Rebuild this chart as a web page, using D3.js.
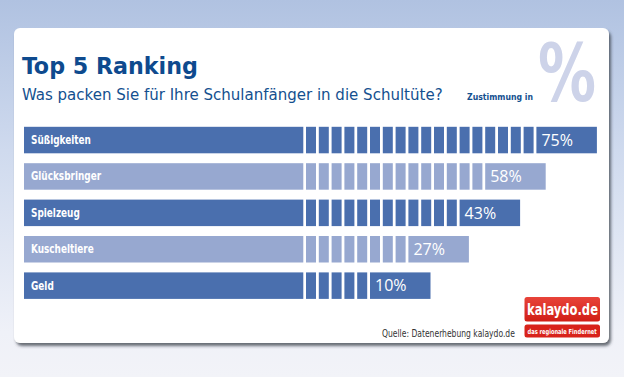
<!DOCTYPE html>
<html>
<head>
<meta charset="utf-8">
<script src="https://cdn.jsdelivr.net/npm/d3@7/dist/d3.min.js"></script>
<style>
html,body{margin:0;padding:0;background:#f2f3f8;}
svg{display:block;}
</style>
</head>
<body>
<svg id="chart" width="624" height="377"></svg>
<script>
// ---- data ----
const categories = ["Süßigkeiten", "Glücksbringer", "Spielzeug", "Kuscheltiere", "Geld"];
const values = [75, 58, 43, 27, 10];
const blocks = [18, 14, 12, 8, 5];   // number of small blocks drawn after the solid part
const title = "Top 5 Ranking";
const subtitle = "Was packen Sie für Ihre Schulanfänger in die Schultüte?";
const unitLabel = "Zustimmung in";
const source = "Quelle: Datenerhebung kalaydo.de";

const W = 624, H = 377;
const svg = d3.select("#chart");
const defs = svg.append("defs");

const bg = defs.append("linearGradient").attr("id","bg").attr("x1",0).attr("y1",0).attr("x2",0).attr("y2",1);
bg.append("stop").attr("offset","0").attr("stop-color","#b0c2e1");
bg.append("stop").attr("offset","0.4").attr("stop-color","#cfdaee");
bg.append("stop").attr("offset","0.88").attr("stop-color","#eff1f8");
bg.append("stop").attr("offset","1").attr("stop-color","#f2f3f8");

const f = defs.append("filter").attr("id","shadow").attr("x","-5%").attr("y","-5%").attr("width","115%").attr("height","120%");
f.append("feDropShadow").attr("dx",2).attr("dy",3).attr("stdDeviation",1.6).attr("flood-color","#3a3f4a").attr("flood-opacity",0.75);

const red = defs.append("linearGradient").attr("id","red").attr("x1",0).attr("y1",0).attr("x2",0).attr("y2",1);
red.append("stop").attr("offset","0").attr("stop-color","#e8443a");
red.append("stop").attr("offset","1").attr("stop-color","#d01e16");

svg.append("rect").attr("width",W).attr("height",H).attr("fill","url(#bg)");

// card
svg.append("rect").attr("x",14).attr("y",28).attr("width",595).attr("height",315)
  .attr("rx",6).attr("fill","#ffffff").attr("filter","url(#shadow)");

const narrow = "'Liberation Sans Narrow','DejaVu Sans Condensed','Arial Narrow',sans-serif";

// place a text at (x, y) squeezed horizontally to a target width via transform
function fitText(parent, str, x, y, width, attrs){
  const t = parent.append("text").attr("x",0).attr("y",0).text(str);
  Object.entries(attrs).forEach(([k,v])=>t.attr(k,v));
  const w = t.node().getComputedTextLength();
  const k = width / w;
  t.attr("transform", `translate(${x},${y}) scale(${k},1)`);
  return t;
}

// big percent sign
fitText(svg, "%", 538, 101, 58, {"font-family":"'DejaVu Sans',sans-serif","font-weight":"bold","font-size":80,"fill":"#cdd3e9"});

// titles
fitText(svg, title, 22, 74, 176, {"font-family":narrow,"font-weight":"bold","font-size":23.5,"fill":"#0e4a8e"});
fitText(svg, subtitle, 22, 99.5, 421, {"font-family":narrow,"font-size":16,"fill":"#14508f"});
fitText(svg, unitLabel, 467, 100, 66, {"font-family":narrow,"font-weight":"bold","font-size":9.5,"fill":"#14508f"});

// scales
const y = d3.scaleBand().domain(categories)
  .range([126.8, 126.8 + 5*36.4 - 9.9]).paddingInner(9.9/36.4).paddingOuter(0);
const maxBlocks = d3.max(blocks);
const x = d3.scaleLinear().domain([0, maxBlocks]).range([306, 306 + maxBlocks*12.8]);
const solidX0 = 24, solidX1 = 303.3, blockW = 10, boxW = 60.5;

const data = categories.map((c,i)=>({cat:c, value:values[i], n:blocks[i], i}));
const dark = "#4a6fae", light = "#97a8d0";
const col = d => d.i % 2 === 0 ? dark : light;

const rows = svg.append("g").selectAll("g").data(data).join("g")
  .attr("transform", d => `translate(0,${y(d.cat)})`);

rows.append("rect").attr("x",solidX0).attr("y",0).attr("width",solidX1-solidX0)
  .attr("height",y.bandwidth()).attr("fill",col);

rows.each(function(d){
  d3.select(this).selectAll("rect.blk").data(d3.range(d.n)).join("rect")
    .attr("class","blk").attr("x",k=>x(k)).attr("y",0).attr("width",blockW)
    .attr("height",y.bandwidth()).attr("fill",col(d));
});

rows.append("rect").attr("x",d=>x(d.n)).attr("y",0).attr("width",boxW)
  .attr("height",y.bandwidth()).attr("fill",col);

rows.each(function(d){
  const g = d3.select(this);
  const t = g.append("text").attr("x",0).attr("y",0).text(d.cat)
    .attr("font-family",narrow).attr("font-weight","bold").attr("font-size",11.5)
    .attr("fill","#ffffff");
  t.attr("transform", `translate(31,${y.bandwidth()/2+4}) scale(0.86,1)`);
});

rows.append("text").attr("x",d=>x(d.n)+5).attr("y",y.bandwidth()/2+5.8).text(d=>d.value+"%")
  .attr("font-family","'Open Sans','DejaVu Sans',sans-serif").attr("font-size",16)
  .attr("fill","#ffffff");

// source
fitText(svg, source, 382, 336.5, 133, {"font-family":narrow,"font-size":10.5,"fill":"#333333"});

// logo
svg.append("rect").attr("x",524.5).attr("y",297).attr("width",75.5).attr("height",24.5).attr("rx",2.5).attr("fill","url(#red)");
fitText(svg, "kalaydo.de", 527, 315, 71, {"font-family":narrow,"font-weight":"bold","font-size":15.5,"fill":"#ffffff"});
svg.append("rect").attr("x",524.5).attr("y",324.5).attr("width",75.5).attr("height",13).attr("rx",2.5).attr("fill","#d8231b");
fitText(svg, "das regionale Findernet", 527.5, 334.3, 69.5, {"font-family":narrow,"font-weight":"bold","font-size":7,"fill":"#ffffff"});
</script>
</body>
</html>
